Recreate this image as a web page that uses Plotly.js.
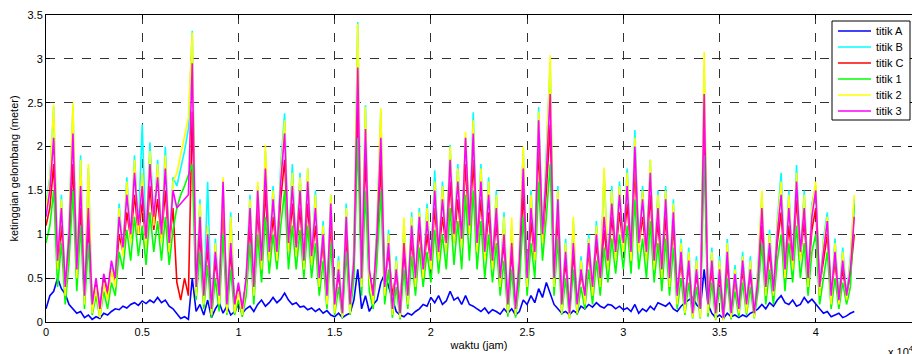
<!DOCTYPE html>
<html>
<head>
<meta charset="utf-8">
<script src="https://cdn.plot.ly/plotly-3.0.1.min.js"></script>
<style>html,body{margin:0;padding:0;background:#fff;}#chart{width:912px;height:354px;}</style>
</head>
<body>
<div id="chart"></div>
<script>
// sampling step in hours (waktu)
const stepJam = 200;

const titikA = [
0.15,0.3,0.35,0.5,0.38,0.32,0.2,0.15,0.1,0.12,
0.05,0.08,0.03,0.06,0.04,0.1,0.08,0.12,0.15,0.14,
0.18,0.16,0.2,0.22,0.19,0.24,0.21,0.25,0.22,0.28,
0.22,0.25,0.18,0.15,0.1,0.04,0.06,0.03,0.5,0.12,
0.2,0.08,0.25,0.05,0.15,0.22,0.1,0.18,0.08,0.12,
0.2,0.1,0.15,0.18,0.12,0.2,0.25,0.18,0.22,0.28,
0.22,0.26,0.33,0.25,0.2,0.22,0.17,0.18,0.14,0.16,
0.12,0.15,0.1,0.13,0.08,0.06,0.1,0.05,0.08,0.1,
0.25,0.6,0.15,0.3,0.12,0.2,0.25,0.45,0.55,0.4,
0.25,0.12,0.08,0.06,0.1,0.08,0.12,0.15,0.2,0.18,
0.28,0.22,0.3,0.2,0.24,0.35,0.25,0.28,0.2,0.3,
0.2,0.18,0.15,0.12,0.16,0.1,0.14,0.12,0.09,0.15,
0.1,0.15,0.08,0.12,0.25,0.2,0.3,0.22,0.38,0.28,
0.45,0.32,0.2,0.15,0.1,0.12,0.08,0.13,0.1,0.18,
0.15,0.2,0.17,0.22,0.18,0.16,0.2,0.19,0.15,0.18,
0.14,0.16,0.12,0.2,0.1,0.15,0.12,0.18,0.14,0.22,
0.2,0.18,0.22,0.15,0.12,0.18,0.22,0.25,0.28,0.2,
0.15,0.6,0.2,0.1,0.05,0.08,0.04,0.1,0.06,0.08,
0.05,0.08,0.06,0.1,0.12,0.15,0.2,0.15,0.22,0.18,
0.25,0.3,0.22,0.2,0.25,0.18,0.2,0.28,0.22,0.26,
0.2,0.15,0.1,0.12,0.06,0.08,0.1,0.05,0.07,0.1,0.12];

const titikB = [
1.35,1.65,2.45,0.65,1.45,0.35,1.15,2.45,0.55,1.9,
0.25,1.75,0.15,0.45,0.1,0.5,0.3,0.65,0.45,1.35,
0.8,1.65,0.95,1.9,1.05,2.25,0.9,2.05,1.15,1.85,
0.95,2.0,0.85,1.65,1.55,1.75,1.95,2.2,3.32,0.35,
1.4,0.25,1.6,0.1,0.95,0.25,1.6,0.15,1.25,0.15,
0.4,0.1,0.5,1.45,0.35,1.55,0.65,1.95,0.75,1.55,
0.75,1.8,2.38,0.85,1.8,0.8,1.7,0.65,1.75,0.7,
1.5,0.45,1.15,0.25,1.45,0.15,0.75,0.1,1.35,0.15,
0.85,3.42,0.45,2.47,0.55,0.25,1.15,2.4,0.35,1.05,
0.1,0.75,0.08,1.1,0.25,1.25,0.45,1.3,0.55,1.35,
0.65,1.73,0.75,1.6,0.85,2.02,0.95,1.8,0.9,2.1,
1.05,2.39,0.85,1.8,0.75,1.65,0.65,1.5,0.45,1.25,
0.15,1.1,0.1,0.85,1.95,0.45,1.5,0.75,2.45,0.95,
1.9,2.95,0.45,1.55,0.15,0.95,0.1,1.15,0.15,0.75,
0.25,1.0,0.35,1.15,0.45,1.7,0.65,1.55,0.75,1.6,
0.85,1.75,0.75,2.19,0.85,1.55,0.75,1.85,0.65,1.5,
0.55,1.55,0.45,1.4,0.25,0.95,0.15,0.85,0.1,0.75,
0.08,2.9,0.15,0.85,0.05,0.75,0.04,0.95,0.08,0.65,
0.15,0.8,0.15,0.75,0.08,0.65,1.45,0.35,1.05,0.35,
1.15,1.7,0.55,1.5,0.65,1.79,0.75,1.5,0.45,1.35,
1.55,0.35,0.95,1.25,0.25,0.95,0.25,0.85,0.3,0.75,1.4];

const titikC = [
1.1,1.3,1.8,0.6,1.1,0.4,0.9,1.8,0.55,1.3,
0.3,1.1,0.2,0.45,0.15,0.5,0.3,0.6,0.45,1.0,
0.8,1.25,0.95,1.45,1.0,1.35,0.9,1.55,1.05,1.4,
0.95,1.5,0.85,1.3,0.45,0.25,0.5,0.3,2.4,0.4,
1.0,0.3,0.85,0.15,0.7,0.3,1.35,0.2,0.8,0.2,
0.4,0.15,0.45,1.1,0.35,1.3,0.6,1.5,0.7,1.2,
0.75,1.4,1.85,0.8,1.35,0.8,1.3,0.65,1.35,0.7,
1.1,0.5,0.9,0.3,1.15,0.2,0.55,0.12,1.0,0.2,
0.6,2.5,0.5,1.9,0.55,0.35,0.85,1.8,0.45,0.8,
0.3,0.55,0.2,0.8,0.3,0.95,0.45,1.05,0.55,1.0,
0.65,1.3,0.75,1.2,0.85,1.6,0.9,1.4,0.9,1.8,
1.0,1.85,0.85,1.4,0.75,1.25,0.65,1.15,0.5,0.9,
0.2,0.8,0.15,0.6,1.5,0.45,1.15,0.7,2.0,0.9,
1.5,2.25,0.45,1.2,0.2,0.7,0.12,0.8,0.2,0.55,
0.3,0.8,0.35,0.9,0.45,1.05,0.65,1.2,0.75,1.25,
0.85,1.35,0.75,1.75,0.85,1.2,0.75,1.45,0.65,1.15,
0.55,1.2,0.5,1.1,0.3,0.7,0.2,0.65,0.12,0.55,
0.15,2.2,0.2,0.6,0.1,0.55,0.06,0.7,0.1,0.5,
0.15,0.6,0.2,0.55,0.1,0.45,1.1,0.35,0.8,0.35,
0.9,1.25,0.55,1.1,0.65,1.4,0.75,1.15,0.5,1.05,
1.3,0.4,0.7,1.0,0.3,0.7,0.25,0.6,0.3,0.55,1.0];

const titik1 = [
0.9,1.1,1.5,0.4,0.9,0.2,0.7,1.5,0.35,1.1,
0.15,0.9,0.08,0.3,0.05,0.35,0.15,0.45,0.3,0.8,
0.6,1.05,0.7,1.2,0.75,1.1,0.65,1.25,0.8,1.15,
0.7,1.2,0.65,1.05,1.3,1.45,1.55,1.68,1.8,0.25,
0.8,0.15,0.65,0.05,0.5,0.12,1.0,0.08,0.6,0.08,
0.25,0.06,0.3,0.9,0.2,1.0,0.45,1.2,0.55,1.0,
0.6,1.1,1.5,0.6,1.1,0.6,1.05,0.5,1.1,0.5,
0.9,0.3,0.7,0.15,0.9,0.08,0.4,0.04,0.8,0.08,
0.5,2.1,0.3,1.5,0.35,0.15,0.7,1.5,0.2,0.6,
0.05,0.4,0.03,0.6,0.15,0.75,0.3,0.85,0.4,0.8,
0.45,1.05,0.55,1.0,0.6,1.3,0.65,1.15,0.6,1.45,
0.7,1.5,0.6,1.15,0.5,1.0,0.45,0.9,0.3,0.7,
0.06,0.6,0.05,0.45,1.2,0.3,0.9,0.5,1.6,0.7,
1.2,1.8,0.3,0.95,0.08,0.5,0.04,0.6,0.08,0.4,
0.15,0.6,0.2,0.7,0.3,0.85,0.45,0.95,0.55,1.0,
0.6,1.1,0.55,1.4,0.6,0.95,0.5,1.15,0.45,0.9,
0.35,0.95,0.3,0.85,0.15,0.5,0.08,0.45,0.04,0.4,
0.04,1.9,0.06,0.45,0.02,0.4,0.02,0.5,0.03,0.35,
0.06,0.45,0.08,0.4,0.04,0.35,0.9,0.2,0.6,0.2,
0.7,1.0,0.35,0.9,0.45,1.1,0.5,0.9,0.3,0.8,
1.0,0.2,0.5,0.8,0.15,0.5,0.15,0.45,0.2,0.4,1.35];

const titik2 = [
1.3,1.6,2.48,0.6,1.4,0.3,1.1,2.5,0.5,1.85,
0.2,1.8,0.1,0.4,0.05,0.45,0.25,0.6,0.4,1.3,
0.75,1.6,0.9,1.85,1.0,1.7,0.85,1.95,1.1,1.8,
0.9,1.9,0.8,1.6,1.7,1.9,2.1,2.33,3.3,0.3,
1.35,0.2,1.1,0.08,0.9,0.2,1.65,0.1,1.2,0.1,
0.35,0.08,0.45,1.4,0.3,1.6,0.6,2.02,0.7,1.5,
0.7,1.7,2.3,0.8,1.7,0.75,1.65,0.6,1.75,0.65,
1.45,0.4,1.1,0.2,1.45,0.1,0.7,0.05,1.3,0.1,
0.8,3.4,0.4,2.45,0.5,0.2,1.1,2.44,0.3,1.0,
0.08,0.7,0.05,1.19,0.2,1.2,0.4,1.25,0.5,1.3,
0.6,1.6,0.7,1.55,0.8,2.0,0.9,1.75,0.85,2.17,
1.0,2.3,0.8,1.75,0.7,1.6,0.6,1.45,0.4,1.2,
0.1,1.19,0.08,0.8,2.0,0.4,1.45,0.7,2.4,0.9,
1.85,3.04,0.4,1.5,0.1,0.9,0.05,1.2,0.1,0.7,
0.2,0.95,0.3,1.1,0.4,1.76,0.6,1.5,0.7,1.55,
0.8,1.7,0.7,2.1,0.8,1.5,0.7,1.85,0.6,1.45,
0.5,1.5,0.4,1.35,0.2,0.9,0.1,0.8,0.05,0.7,
0.05,3.08,0.1,0.8,0.03,0.7,0.02,0.9,0.05,0.6,
0.1,0.75,0.1,0.7,0.05,0.6,1.5,0.3,1.0,0.3,
1.1,1.6,0.5,1.45,0.6,1.7,0.7,1.45,0.4,1.3,
1.6,0.3,0.9,1.2,0.2,0.9,0.2,0.8,0.25,0.7,1.45];

const titik3 = [
1.2,1.5,2.1,0.7,1.3,0.4,1.0,2.15,0.6,1.55,
0.3,1.3,0.2,0.5,0.15,0.55,0.35,0.7,0.5,1.2,
0.85,1.45,1.0,1.7,1.1,1.55,0.95,1.8,1.2,1.65,
1.0,1.75,0.9,1.5,1.3,1.35,1.4,1.45,2.95,0.4,
1.2,0.3,1.0,0.15,0.8,0.3,1.6,0.2,0.9,0.2,
0.45,0.15,0.5,1.3,0.4,1.5,0.7,1.75,0.8,1.4,
0.8,1.6,2.15,0.9,1.55,0.85,1.5,0.7,1.6,0.75,
1.3,0.5,1.0,0.3,1.35,0.2,0.6,0.1,1.2,0.2,
0.7,2.9,0.5,2.2,0.6,0.3,1.0,2.1,0.4,0.9,
0.15,0.6,0.1,0.9,0.3,1.1,0.5,1.2,0.6,1.15,
0.7,1.5,0.8,1.4,0.9,1.85,1.0,1.6,0.95,2.1,
1.1,2.15,0.9,1.6,0.8,1.45,0.7,1.3,0.5,1.0,
0.2,0.9,0.15,0.7,1.75,0.5,1.3,0.8,2.3,1.0,
1.7,2.6,0.5,1.4,0.2,0.8,0.1,0.9,0.2,0.6,
0.3,0.9,0.4,1.0,0.5,1.2,0.7,1.35,0.8,1.45,
0.9,1.55,0.8,2.0,0.9,1.4,0.8,1.7,0.7,1.3,
0.6,1.4,0.5,1.25,0.3,0.8,0.2,0.7,0.1,0.6,
0.15,2.6,0.2,0.7,0.1,0.6,0.05,0.8,0.1,0.55,
0.15,0.7,0.2,0.6,0.1,0.5,1.3,0.4,0.9,0.35,
1.0,1.45,0.6,1.3,0.7,1.6,0.8,1.3,0.5,1.2,
1.5,0.4,0.8,1.15,0.3,0.8,0.25,0.7,0.3,0.6,1.2];

const seriesNames = ['titik A','titik B','titik C','titik 1','titik 2','titik 3'];
const seriesColors = ['#0000ff','#00ffff','#ff0000','#00ff00','#ffff00','#ff00ff'];
const seriesData = [titikA, titikB, titikC, titik1, titik2, titik3];

const xTickVals = [0,5000,10000,15000,20000,25000,30000,35000,40000,45000];
const xTickText = ['0','0.5','1','1.5','2','2.5','3','3.5','4','4.5'];

const waktu = titikA.map((_, i) => i * stepJam);

const traces = seriesData.map((d, k) => ({
  x: waktu, y: d, type: 'scatter', mode: 'lines',
  name: seriesNames[k], showlegend: false,
  line: {color: seriesColors[k], width: 1.6}
}));

const FONT = 'Liberation Sans, Arial, Helvetica, sans-serif';

// plot-area geometry used to place the hand-drawn MATLAB-style legend
const W = 912, H = 354, ML = 46, MR = 0, MT = 15, MB = 32;
const PW = W - ML - MR, PH = H - MT - MB;
const px = v => (v - ML) / PW;
const py = v => (H - MB - v) / PH;

const shapes = [];
const annotations = [];
// legend box
shapes.push({type: 'rect', xref: 'paper', yref: 'paper', layer: 'above',
  x0: px(832), x1: px(910), y0: py(120), y1: py(21),
  fillcolor: '#ffffff', line: {color: '#000000', width: 1}});
seriesNames.forEach((nm, k) => {
  const yy = py(31 + 16 * k);
  shapes.push({type: 'line', xref: 'paper', yref: 'paper', layer: 'above',
    x0: px(838), x1: px(871), y0: yy, y1: yy,
    line: {color: seriesColors[k], width: 1.5}});
  annotations.push({xref: 'paper', yref: 'paper', x: px(874), y: yy,
    xanchor: 'left', yanchor: 'middle', showarrow: false, text: nm,
    font: {family: FONT, size: 11, color: '#000'}});
});
// exponent label of x axis
annotations.push({xref: 'paper', yref: 'paper', x: px(886), y: py(342),
  xanchor: 'left', yanchor: 'top', showarrow: false, text: 'x 10<sup>4</sup>',
  font: {family: FONT, size: 11, color: '#000'}});

const layout = {
  width: W, height: H,
  margin: {l: ML, r: MR, t: MT, b: MB},
  paper_bgcolor: '#ffffff', plot_bgcolor: '#ffffff',
  font: {family: FONT, size: 11, color: '#000'},
  showlegend: false,
  xaxis: {
    range: [0, 45000], tickvals: xTickVals, ticktext: xTickText,
    showgrid: true, gridcolor: '#333333', griddash: 'dash', gridwidth: 1,
    zeroline: false, showline: true, linecolor: '#000', linewidth: 1, mirror: 'ticks',
    ticks: 'inside', ticklen: 4, tickcolor: '#000',
    title: {text: 'waktu (jam)', font: {family: FONT, size: 11}, standoff: 4},
    tickfont: {family: FONT, size: 11}
  },
  yaxis: {
    range: [0, 3.5], dtick: 0.5, tick0: 0,
    showgrid: true, gridcolor: '#333333', griddash: 'dash', gridwidth: 1,
    zeroline: false, showline: true, linecolor: '#000', linewidth: 1, mirror: 'ticks',
    ticks: 'inside', ticklen: 4, tickcolor: '#000',
    title: {text: 'ketinggian gelombang (meter)', font: {family: FONT, size: 11}, standoff: 6},
    tickfont: {family: FONT, size: 11}
  },
  shapes: shapes,
  annotations: annotations
};

Plotly.newPlot('chart', traces, layout, {displayModeBar: false, staticPlot: true});
</script>
</body>
</html>
